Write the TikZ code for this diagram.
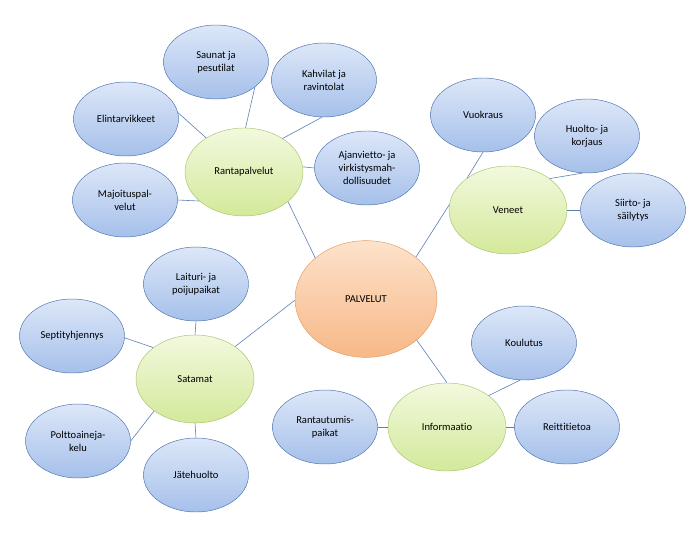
\documentclass[tikz,border=0pt]{standalone}
\usepackage{fontspec}
\setmainfont{Carlito}[Ligatures=NoCommon]
\usetikzlibrary{shapes.geometric}
\definecolor{leafA}{HTML}{DCE7F8}
\definecolor{leafB}{HTML}{A6C0EA}
\definecolor{leafE}{HTML}{4F72AE}
\definecolor{topA}{HTML}{F2F9DE}
\definecolor{topB}{HTML}{D3E99A}
\definecolor{topE}{HTML}{A9C46E}
\definecolor{hubA}{HTML}{FDE2CB}
\definecolor{hubB}{HTML}{F7B887}
\definecolor{hubE}{HTML}{E39C66}
\definecolor{linkC}{HTML}{5B7DB5}
\tikzset{
  bub/.style={ellipse,align=center,inner sep=0pt,font=\fontsize{9}{11}\selectfont},
  leaf/.style={bub,draw=leafE,top color=leafA,bottom color=leafB,minimum width=3.15cm,minimum height=2.22cm},
  topic/.style={bub,draw=topE,top color=topA,bottom color=topB,minimum width=3.54cm,minimum height=2.64cm},
  hub/.style={bub,draw=hubE,top color=hubA,bottom color=hubB,minimum width=4.26cm,minimum height=3.5cm},
  link/.style={linkC,line width=.5pt}
}
\begin{document}
\begin{tikzpicture}[x=.03cm,y=-.03cm]
\useasboundingbox (0,0) rectangle (695,538);
\node[hub] (pal) at (366,299) {PALVELUT};
\node[topic] (ran) at (244,172) {Rantapalvelut};
\node[topic] (ven) at (508,210) {Veneet};
\node[topic] (sat) at (195,379) {Satamat};
\node[topic] (inf) at (447,427) {Informaatio};
\node[leaf] (sau) at (216,62) {Saunat ja\\pesutilat};
\node[leaf] (kah) at (324,80) {Kahvilat ja\\ravintolat};
\node[leaf] (eli) at (126,119) {Elintarvikkeet};
\node[leaf] (aja) at (367,168) {Ajanvietto- ja\\virkistysmah-\\dollisuudet};
\node[leaf] (maj) at (125,200) {Majoituspal-\\velut};
\node[leaf] (vuo) at (483,115) {Vuokraus};
\node[leaf] (huo) at (587,136) {Huolto- ja\\korjaus};
\node[leaf] (sii) at (633,210) {Siirto- ja\\säilytys};
\node[leaf] (lai) at (196,284) {Laituri- ja\\poijupaikat};
\node[leaf] (sep) at (72,336) {Septityhjennys};
\node[leaf] (pol) at (78,441) {Polttoaineja-\\kelu};
\node[leaf] (jat) at (196,475) {Jätehuolto};
\node[leaf] (rau) at (325,427) {Rantautumis-\\paikat};
\node[leaf] (rei) at (567,427) {Reittitietoa};
\node[leaf] (kou) at (524,343) {Koulutus};
\foreach \a/\b in {ran.-34/pal.141, pal.40/ven.175, pal.181/sat.39, pal.-39/inf.90,
  ran.88/sau.-33, ran.41/kah.-93, ran.138/eli.7, ran.5/aja.180, ran.-147/maj.0,
  ven.142/vuo.-90, ven.37/huo.-97, ven.0/sii.180,
  sat.90/lai.-90, sat.143/sep.-2, sat.-142/pol.0, sat.-90/jat.90,
  inf.37/kou.-96, inf.0/rei.180, inf.180/rau.0}
  \draw[link] (\a)--(\b);
\end{tikzpicture}
\end{document}
